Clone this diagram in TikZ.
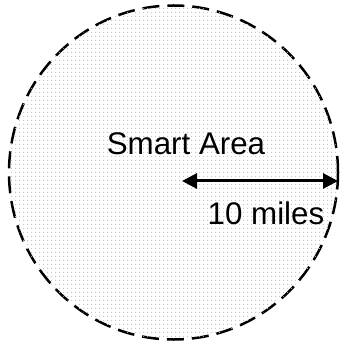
\documentclass[tikz,border=0pt]{standalone}
\usepackage{fontspec}
\setmainfont{Liberation Sans}
\usetikzlibrary{arrows.meta,patterns.meta}
\begin{document}
\begin{tikzpicture}[x=1pt,y=-1pt,
  area/.style={draw=black,line width=2.5pt,dash pattern=on 17pt off 8pt,fill=white,postaction={pattern={Dots[distance=4pt,radius=0.75pt]},pattern color=gray!50}},
  lbl/.style={font=\fontsize{31.3}{36}\selectfont,inner sep=0pt},
  dim/.style={line width=3pt,{Triangle[length=15pt,width=15pt]}-{Triangle[length=15pt,width=15pt]}}]
\useasboundingbox (0,0) rectangle (339,344);
\draw[area] (173.5,172.5) ellipse [x radius=164.5,y radius=167];
\node[lbl] (title) at (186,144) {Smart Area};
\coordinate (c) at (182,181);
\coordinate (e) at (338,181);
\draw[dim] (c) -- (e);
\node[lbl] (dist) at (266,213) {10 miles};
\end{tikzpicture}
\end{document}
